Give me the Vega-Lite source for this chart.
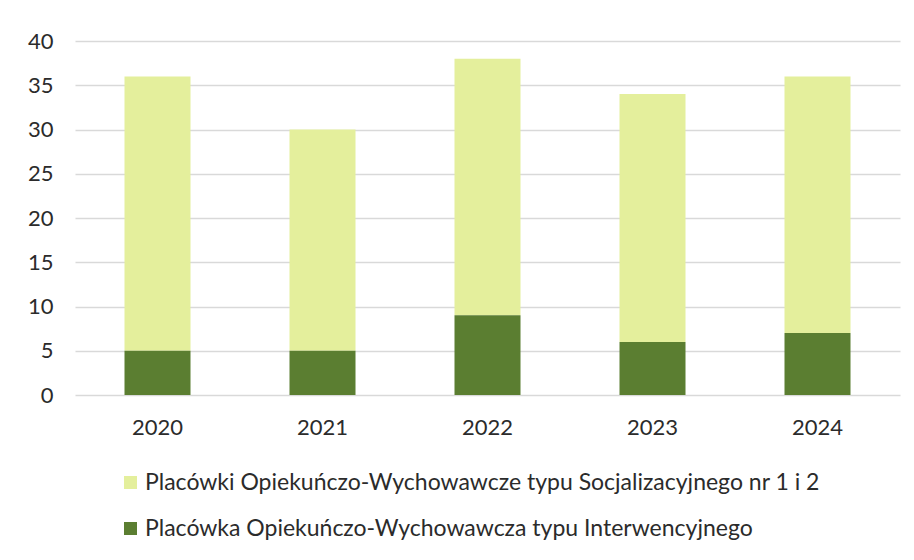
{
  "$schema": "https://vega.github.io/schema/vega-lite/v6.json",
  "autosize": "none",
  "width": 825,
  "height": 354,
  "padding": {"left": 75, "top": 41, "right": 14, "bottom": 165},
  "background": "white",
  "data": {
    "values": [
      {"year": "2020", "series": "Placówki Opiekuńczo-Wychowawcze typu Socjalizacyjnego nr 1 i 2", "value": 31},
      {"year": "2020", "series": "Placówka Opiekuńczo-Wychowawcza typu Interwencyjnego", "value": 5},
      {"year": "2021", "series": "Placówki Opiekuńczo-Wychowawcze typu Socjalizacyjnego nr 1 i 2", "value": 25},
      {"year": "2021", "series": "Placówka Opiekuńczo-Wychowawcza typu Interwencyjnego", "value": 5},
      {"year": "2022", "series": "Placówki Opiekuńczo-Wychowawcze typu Socjalizacyjnego nr 1 i 2", "value": 29},
      {"year": "2022", "series": "Placówka Opiekuńczo-Wychowawcza typu Interwencyjnego", "value": 9},
      {"year": "2023", "series": "Placówki Opiekuńczo-Wychowawcze typu Socjalizacyjnego nr 1 i 2", "value": 28},
      {"year": "2023", "series": "Placówka Opiekuńczo-Wychowawcza typu Interwencyjnego", "value": 6},
      {"year": "2024", "series": "Placówki Opiekuńczo-Wychowawcze typu Socjalizacyjnego nr 1 i 2", "value": 29},
      {"year": "2024", "series": "Placówka Opiekuńczo-Wychowawcza typu Interwencyjnego", "value": 7}
    ]
  },
  "mark": {"type": "bar"},
  "encoding": {
    "x": {
      "field": "year", "type": "nominal",
      "scale": {"paddingInner": 0.6, "paddingOuter": 0.3},
      "axis": {"title": null, "labelAngle": 0, "domain": false, "ticks": false, "labelPadding": 22, "labelFontSize": 22, "labelFont": "Lato", "labelColor": "#2b2b2b"}
    },
    "y": {
      "field": "value", "type": "quantitative", "stack": "zero",
      "scale": {"domain": [0, 40], "nice": false},
      "axis": {"title": null, "values": [0, 5, 10, 15, 20, 25, 30, 35, 40], "domain": false, "ticks": false, "labelPadding": 22, "labelFontSize": 22, "labelFont": "Lato", "labelColor": "#2b2b2b", "gridColor": "#d9d9d9", "gridWidth": 1.5}
    },
    "color": {
      "field": "series", "type": "nominal",
      "scale": {
        "domain": ["Placówki Opiekuńczo-Wychowawcze typu Socjalizacyjnego nr 1 i 2", "Placówka Opiekuńczo-Wychowawcza typu Interwencyjnego"],
        "range": ["#e4ef9c", "#5b7e31"]
      },
      "legend": {
        "title": null, "orient": "none", "legendX": 44, "legendY": 430,
        "symbolType": "square", "symbolSize": 169, "symbolStrokeWidth": 0,
        "labelFontSize": 23, "labelFont": "Lato", "labelColor": "#2b2b2b",
        "rowPadding": 22, "labelOffset": 3, "labelLimit": 800
      }
    },
    "order": {"field": "series", "sort": "ascending"}
  },
  "config": {"view": {"stroke": null}}
}
